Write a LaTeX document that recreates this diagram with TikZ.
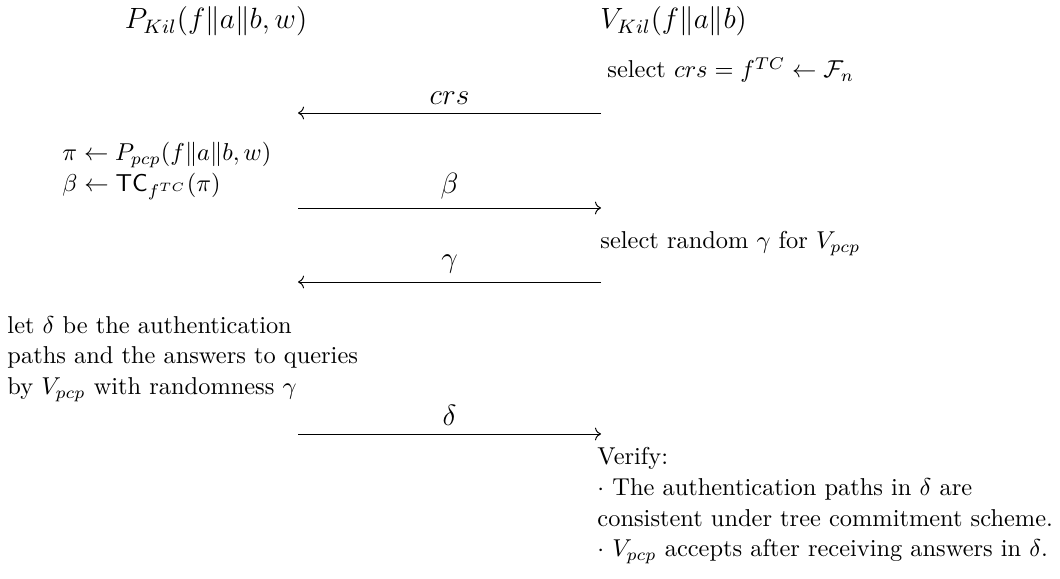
\documentclass[tikz,border=0pt]{standalone}
\usepackage{amsmath, amssymb}
\usepackage{tikz}
\usetikzlibrary{arrows.meta, positioning}

\tikzset{
  kopf/.style={font=\large, inner sep=0pt, anchor=base},
  txt/.style={font=\fontsize{10}{12.7}\selectfont, inner sep=0pt,
              anchor=base west, align=left},
  msg/.style={->},
  lbl/.style={font=\large, above=0pt},
}

\begin{document}
\begin{tikzpicture}[x=1.44cm, y=1.44cm]
      \useasboundingbox (0,0) rectangle (10.60,5.79);

      % Parteien
      \node[kopf] (P) at (2.16,5.50) {$P_{Kil}(f\|a\|b, w)$};
      \node[kopf, anchor=base west] (V) at (6.00,5.50) {$V_{Kil}(f\|a\|b)$};

      % Endpunkte der Nachrichten
      \foreach \n/\y in {crs/4.66, beta/3.71, gamma/2.97, delta/1.45} {
        \coordinate (P-\n) at (2.98,\y);
        \coordinate (V-\n) at (6.01,\y);
      }

      % Nachrichten
      \draw[msg] (V-crs) -- node[lbl] (l-crs) {$crs$} (P-crs);
      \draw[msg] (P-beta) -- node[lbl] (l-beta) {$\beta$} (V-beta);
      \draw[msg] (V-gamma) -- node[lbl] (l-gamma) {$\gamma$} (P-gamma);
      \draw[msg] (P-delta) -- node[lbl] (l-delta) {$\delta$} (V-delta);

      % Schritte des Beweisers
      \node[txt] (pi) at (0.62,3.87)
        {$\pi \leftarrow P_{pcp}(f\|a\|b, w)$\\
         $\beta \leftarrow \mathsf{TC}_{f^{TC}}(\pi)$};
      \node[txt] (let) at (0.07,1.84)
        {let $\delta$ be the authentication\\
         paths and the answers to queries\\
         by $V_{pcp}$ with randomness $\gamma$};

      % Schritte des Verifizierers
      \node[txt] (sel) at (6.07,5.01)
        {select $crs = f^{TC} \leftarrow \mathcal{F}_n$};
      \node[txt] (rnd) at (6.00,3.30) {select random $\gamma$ for $V_{pcp}$};
      \node[txt] (ver) at (5.97,0.22)
        {Verify:\\
         $\cdot$ The authentication paths in $\delta$ are\\
         consistent under tree commitment scheme.\\
         $\cdot$ $V_{pcp}$ accepts after receiving answers in $\delta$.};
    \end{tikzpicture}
\end{document}
